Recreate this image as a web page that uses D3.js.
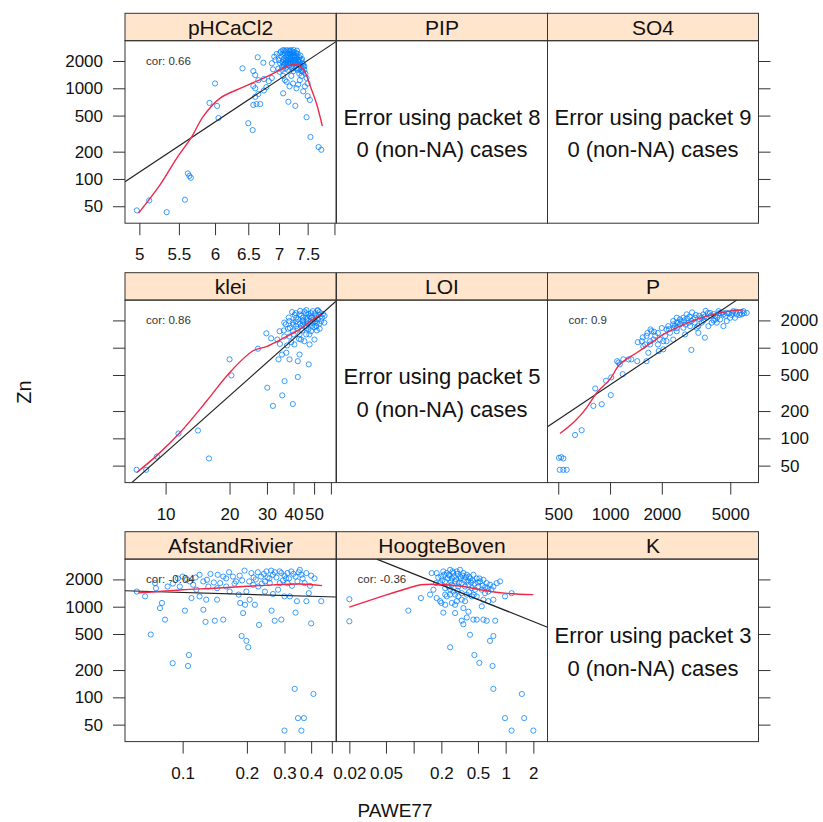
<!DOCTYPE html>
<html>
<head>
<meta charset="utf-8">
<script src="https://cdn.jsdelivr.net/npm/d3@7"></script>
<style>
  body { margin: 0; background: #fff; }
  text { font-family: "Liberation Sans", Arial, Helvetica, sans-serif; }
</style>
</head>
<body>
<svg id="chart" width="823" height="822"></svg>
<script>
// ---------------- data ----------------
// Zn response (log scale) shared by every panel
const znTicks = [50, 100, 200, 500, 1000, 2000];
const znDomain = [32.5, 3350];

// pHCaCl2 vs Zn
const pHPoints = [
  [4.97,45],[5.12,58],[5.34,43],[5.58,59],[5.62,115],[5.64,108],[5.66,103],
  [5.92,690],[6.03,640],[6.0,1130],[6.05,470],
  [6.41,1660],[6.5,412],[6.57,346],[6.65,2200],[6.74,1918],
  [6.58,1550],[6.61,1400],[6.66,1230],[6.58,1060],[6.61,1000],[6.66,865],[6.61,805],[6.58,655],
  [6.63,670],[6.69,670],[6.75,945],[6.79,1030],[6.75,1265],[6.83,1200],[6.88,1300],[6.9,1620],
  [6.88,1890],[6.92,2230],[6.94,2050],[6.96,2390],
  [7.01,2430],[7.04,2230],[7.07,2640],[7.07,2050],[7.1,2430],[7.1,1890],[7.13,2230],[7.13,2640],
  [7.15,2050],[7.16,2430],[7.18,2230],[7.18,1890],[7.2,2640],[7.21,2050],[7.22,2430],[7.24,2230],
  [7.24,1890],[7.26,2500],[7.27,2050],[7.28,2300],[7.3,2150],[7.3,1890],[7.32,2400],[7.33,1980],
  [7.35,2200],[7.36,1800],[7.38,2050],[7.4,1890],[7.42,1730],[7.02,1890],[7.05,1730],[7.08,1800],
  [7.11,1650],[7.14,1730],[7.17,1800],[7.2,1730],[7.23,1650],[7.26,1730],[7.29,1650],[7.32,1600],
  [7.35,1650],[7.38,1560],[7.44,1600],[7.46,1450],[7.0,2050],[6.99,1650],[7.19,2550],[7.25,2650],
  [7.12,1950],[7.28,1950],
  [7.03,2550],[7.06,2400],[7.09,2150],[7.11,2550],[7.14,2350],[7.16,2150],[7.19,2400],[7.21,2250],
  [7.23,2550],[7.26,2300],[7.29,2450],[7.31,2250],[7.34,2050],[7.37,2300],[7.4,2100],[7.06,1950],
  [7.09,1850],[7.12,2050],[7.15,1900],[7.18,2000],[7.21,1900],[7.24,2000],[7.27,1900],[7.3,1800],
  [7.33,1850],[7.36,1950],[7.39,1700],[7.42,1850],[7.44,1750],[7.15,1600],[7.25,1550],[7.35,1450],
  [7.05,1600],[7.4,1550],[7.27,2200],[7.2,2150],[7.17,2600],[7.31,2600],[7.09,2600],[7.13,1850],
  [7.01,1520],[7.07,1370],[7.1,1230],[7.13,1180],[7.21,1370],[7.24,1130],[7.3,1000],[7.36,1230],
  [7.39,1370],[7.42,1520],[7.48,1300],[7.5,1130],[7.42,925],[7.5,820],[7.54,743],[7.07,880],
  [7.16,710],[7.28,640],[7.48,480],[7.55,290],[7.7,225],[7.75,210],[7.18,1050],[7.33,1100],[7.45,1050]
];
const pHSmooth = [
  [4.99,42],[5.255,86],[5.47,169],[5.67,290],[5.83,488],[6.07,775],[6.42,1030],[6.79,1340],
  [7.07,1660],[7.21,1810],[7.33,1810],[7.45,1520],[7.54,1085],[7.66,685],[7.77,382]
];
const pHFit = [[4.83,93],[8.03,3270]];
const pHTicks = [5, 5.5, 6, 6.5, 7, 7.5, 8];
const pHTickLabels = ["5", "5.5", "6", "6.5", "7", "7.5", ""];

// klei vs Zn
const kleiPoints = [
  [7.3,45],[8.1,45],[9.1,63],[11.5,113],[14.2,122],[16,60],[20,743],[20.4,495],[27.2,975],
  [29.8,1440],[30.1,362],[32,228],[35.4,298],[36.3,428],[39.7,239],[41.9,475],[47.2,655],[41.9,710],
  [34,743],[35.3,840],[37,880],[38.3,743],[40.4,1085],[37.3,1060],[42.7,840],[43.4,1230],[47.6,1085],
  [45.9,1400],[33.6,1230],[36.2,1330],[31.4,1270],[34.4,1520],[36.8,1810],[39.4,2470],[42.7,2330],
  [45.9,2400],[49.3,2530],[53.1,2470],[54,1970],[51.2,1730],[48.4,1520],[50.2,1230],[44.3,1810],
  [46.8,1970],[41.2,1730],[39.7,1520],[38.3,1970],[41.2,2140],[44.3,2140],[47.6,2230],[51.2,2230],
  [52.1,2050],[38.3,1330],[42.7,1400],[45,1180],[53.1,1620],[55.8,1890],[36.2,1890],[42,1620],
  [49.3,1890],[45.9,1730],[39.7,1890],[43.4,1730],[48.4,2400],[50.2,1680],[37.7,1620],
  [40.5,2300],[43,2550],[46,2050],[50,2050],[52,2600],[47,1600],[44,2000],[49,2150],[41,1950],
  [55,2350],[46.5,1850],[51.5,1900],[38,2150],
  [41,2400],[43.5,2250],[45,2500],[47,2350],[48.5,2150],[50.5,2400],[52.5,2300],[54.5,2150],
  [42,2050],[44.5,1950],[46.5,2150],[48,1850],[50.5,1950],[53,1850],[40,1800],[43,1850],[46,1650],
  [49,1750],[51.5,1550],[38.5,1650],[44,1550],[47.5,1400],[40,1400],[42.5,1250],[36,1550],[39,1150],
  [34.5,1100],[56,2250],[52,2550],[46,2600]
];
const kleiSmooth = [
  [7.31,42],[9.08,64.5],[11.7,116],[15.6,258],[20,530],[25.8,925],[29.8,1030],[36.2,1290],
  [42.7,1590],[49.3,2050],[54,2370]
];
const kleiFit = [[6.93,32.5],[63.4,3260]];
const kleiTicks = [10, 20, 30, 40, 50, 60];
const kleiTickLabels = ["10", "20", "30", "40", "50", ""];

// P vs Zn
const pPoints = [
  [505,61],[520,62],[535,60],[510,45],[535,45],[560,45],
  [626,109],[684,123],[800,228],[895,238],[820,355],[948,432],[1010,300],[1016,470],
  [1100,710],[1120,685],[1140,655],[1195,743],[1280,743],[1185,510],[1330,743],[1440,710],
  [1630,710],[1670,880],[1560,1040],[1600,1085],[1710,1180],[1740,1520],[1830,1350],[1900,1085],
  [1920,920],[2040,1180],[2090,1350],[2130,1590],[2180,1730],[2330,1970],[2440,2140],[2380,1730],
  [2970,945],[3560,1290],
  [2230,1460],[2330,1810],[2440,1890],[2550,2050],[2670,2140],[2790,2330],[2860,1890],[2970,1970],
  [3120,2140],[3260,1730],[3330,2050],[3490,2330],[3650,2140],[3810,2420],[3900,1890],[4080,2230],
  [4270,2530],[4360,2050],[4560,2330],[4770,2420],[4990,2140],[5200,2530],[5450,2330],[5700,2420],
  [5960,2530],[6230,2420],[2670,1660],[2440,1520],[2920,1730],[3190,1660],[2130,1180],[2040,960],
  [1950,1230],[1790,1230],[1710,1085],[1530,1180],[1630,1350],[1720,1590],[2550,1810],[3410,1890],
  [3730,1730],[4170,1890],[4560,1730],[4770,1970],[5320,2140],[5830,2330],[2330,1230],[2730,1400],
  [3260,1460],[3000,2450],[4000,2000],[4400,2400],[5100,2300],[3600,2550],
  [2200,1600],[2350,1650],[2500,1900],[2600,1950],[2700,2000],[2800,2100],[2900,2200],[3050,2050],
  [3150,2300],[3300,2250],[3400,2150],[3550,2200],[3700,2400],[3850,2250],[4000,2350],[4200,2150],
  [4300,2400],[4500,2450],[4700,2250],[4900,2400],[5150,2450],[5400,2500],[5650,2300],[6000,2400],
  [2450,1650],[2750,1800],[3100,1900],[3500,2000],[4100,2050],[1900,1450],[2000,1650],[1800,1500],
  [1650,1450],[1550,1300],[1450,1150]
];
const pSmooth = [
  [512,113],[626,155],[732,218],[837,318],[1000,450],[1140,655],[1430,880],[1790,1180],
  [2040,1400],[2550,1730],[3190,2050],[3990,2330],[4990,2530],[5960,2620]
];
const pFit = [[433,134],[5450,3350]];
const pTicks = [500, 1000, 2000, 5000];
const pTickLabels = ["500", "1000", "2000", "5000"];

// AfstandRivier vs Zn
const afstandPoints = [
  [0.061,1470],[0.0667,1300],[0.0709,493],[0.0743,1820],[0.0783,965],[0.08,1100],[0.0827,720],
  [0.0898,238],[0.085,1670],[0.1025,905],[0.106,222],[0.107,293],[0.112,1745],[0.116,1540],
  [0.11,1245],[0.12,1300],[0.125,925],[0.128,680],[0.129,1195],[0.12,2250],[0.13,1980],[0.1415,700],
  [0.145,1195],[0.15,1820],[0.155,720],[0.146,2250],[0.16,2050],[0.166,1470],[0.172,2150],
  [0.178,1900],[0.186,1100],[0.189,475],[0.192,850],[0.199,420],[0.203,357],[0.196,1050],
  [0.206,1195],[0.21,2350],[0.218,1050],[0.228,630],[0.226,1670],[0.233,2150],[0.243,1900],
  [0.247,2450],[0.261,905],[0.265,2250],[0.27,700],[0.28,1540],[0.29,720],[0.29,2350],[0.3,43],
  [0.3,1300],[0.305,2050],[0.318,1300],[0.323,2450],[0.335,124],[0.338,860],[0.343,1150],
  [0.347,59],[0.354,2550],[0.36,43],[0.37,59],[0.38,1150],[0.39,1410],[0.4,655],[0.41,109],
  [0.415,2050],[0.446,1150],[0.285,1820],[0.256,1820],[0.214,1745],[0.199,1470],[0.16,1670],
  [0.132,1670],[0.1,2150],[0.108,1900],[0.097,1670],[0.145,1600],[0.183,1360],[0.243,1470],
  [0.265,1380],[0.31,1820],[0.338,2150],[0.373,1820],[0.36,2250],[0.27,2400],[0.22,2000],
  [0.25,2100],[0.31,2350],[0.19,1950],
  [0.105,2000],[0.115,2100],[0.125,1900],[0.135,2300],[0.14,1850],[0.155,2150],[0.165,2400],
  [0.175,1800],[0.185,2200],[0.195,2500],[0.205,1900],[0.215,2100],[0.225,2400],[0.235,1800],
  [0.24,2300],[0.255,2050],[0.26,2500],[0.275,2100],[0.285,2450],[0.295,1950],[0.3,2200],
  [0.315,2050],[0.325,1700],[0.33,2300],[0.345,1900],[0.35,2400],[0.365,2050],[0.38,2350],
  [0.395,1700],[0.4,2200],[0.09,1800],[0.095,2050],[0.075,1600]
];
const afstandSmooth = [
  [0.062,1420],[0.08,1480],[0.1,1540],[0.14,1600],[0.2,1680],[0.265,1740],[0.354,1780],[0.45,1710]
];
const afstandFit = [[0.0537,1500],[0.523,1280]];
const afstandTicks = [0.1, 0.2, 0.3, 0.4, 0.5];
const afstandTickLabels = ["0.1", "0.2", "0.3", "0.4", ""];

// HoogteBoven vs Zn
const hoogtePoints = [
  [0.02,1210],[0.02,690],[0.0875,905],[0.12,1245],[0.151,1360],[0.157,2350],[0.164,1540],
  [0.175,1820],[0.178,1245],[0.194,1150],[0.2,1100],[0.21,860],[0.22,1600],[0.229,1300],
  [0.24,2250],[0.249,357],[0.26,2050],[0.27,1470],[0.282,850],[0.282,1050],[0.294,1150],
  [0.306,1300],[0.319,2150],[0.333,700],[0.347,640],[0.362,1150],[0.378,760],[0.394,880],
  [0.41,490],[0.428,1300],[0.446,720],[0.457,293],[0.485,720],[0.518,240],[0.55,1010],[0.573,720],
  [0.622,700],[0.647,1150],[0.676,420],[0.72,222],[0.735,475],[0.735,1195],[0.735,124],[0.77,700],
  [0.8,1820],[0.869,1900],[0.984,1300],[0.984,59],[1.16,43],[1.16,1410],[1.5,109],[1.59,59],[2.0,43],
  [0.178,2350],[0.2,2150],[0.21,2450],[0.229,2350],[0.249,2550],[0.27,2350],[0.294,2450],
  [0.319,2550],[0.347,2350],[0.378,2250],[0.41,2050],[0.446,2250],[0.485,2050],[0.527,1900],
  [0.573,1980],[0.622,1820],[0.676,1745],[0.735,1670],[0.194,1820],[0.22,1900],[0.24,1670],
  [0.26,1745],[0.282,1900],[0.306,1670],[0.333,1820],[0.362,1670],[0.394,1745],[0.428,1600],
  [0.465,1540],[0.505,1670],[0.55,1540],[0.597,1410],[0.647,1470],[0.22,1360],[0.249,1360],
  [0.282,1360],[0.333,1410],[0.378,1360],[0.485,1300],[0.573,1195],[0.333,1195],[0.26,1100],
  [0.347,965],[0.22,1050],
  [0.185,2100],[0.205,1950],[0.215,2250],[0.235,2050],[0.245,2200],[0.255,1900],[0.265,2450],
  [0.275,2150],[0.29,2000],[0.3,2300],[0.31,1850],[0.325,2050],[0.34,2200],[0.355,1950],
  [0.37,2100],[0.385,1900],[0.4,2150],[0.42,1850],[0.44,1950],[0.46,1800],[0.5,1850],[0.52,2050],
  [0.56,1700],[0.6,1650],[0.64,1600],[0.7,1550],[0.25,1550],[0.3,1500],[0.4,1450],[0.45,1350]
];
const hoogteSmooth = [
  [0.02,990],[0.045,1300],[0.09,1620],[0.12,1745],[0.2,1760],[0.35,1670],[0.53,1540],[0.98,1410],[2.0,1360]
];
const hoogteFit = [[0.0397,3350],[2.85,594]];
const hoogteTicks = [0.02, 0.05, 0.1, 0.2, 0.5, 1, 2];
const hoogteTickLabels = ["0.02", "0.05", "", "0.2", "0.5", "1", "2"];

// panel layout, top row first (lattice draws packets from the bottom row up)
const panels = [
  { name: "pHCaCl2", row: 0, col: 0, points: pHPoints, smooth: pHSmooth, fit: pHFit, cor: "0.66",
    xDomain: [4.83, 8.03], ticks: pHTicks, tickLabels: pHTickLabels },
  { name: "PIP", row: 0, col: 1, packet: 8 },
  { name: "SO4", row: 0, col: 2, packet: 9 },
  { name: "klei", row: 1, col: 0, points: kleiPoints, smooth: kleiSmooth, fit: kleiFit, cor: "0.86",
    xDomain: [6.44, 63.4], ticks: kleiTicks, tickLabels: kleiTickLabels },
  { name: "LOI", row: 1, col: 1, packet: 5 },
  { name: "P", row: 1, col: 2, points: pPoints, smooth: pSmooth, fit: pFit, cor: "0.9",
    xDomain: [433, 7295], ticks: pTicks, tickLabels: pTickLabels },
  { name: "AfstandRivier", row: 2, col: 0, points: afstandPoints, smooth: afstandSmooth, fit: afstandFit, cor: "-0.04",
    xDomain: [0.0537, 0.523], ticks: afstandTicks, tickLabels: afstandTickLabels },
  { name: "HoogteBoven", row: 2, col: 1, points: hoogtePoints, smooth: hoogteSmooth, fit: hoogteFit, cor: "-0.36",
    xDomain: [0.0145, 2.85], ticks: hoogteTicks, tickLabels: hoogteTickLabels },
  { name: "K", row: 2, col: 2, packet: 3 }
];

// ---------------- drawing ----------------
const svg = d3.select("#chart");
const colLeft = [125, 336.5, 547.5];
const colW = 211;
const stripTop = [13.3, 272.7, 531.7];
const stripH = 27.4;
const panelH = 182.5;
const axisCol = "#333";
const pointCol = "#0080ff";
const smoothCol = "#f0284a";
const fontStack = '"Liberation Sans", Arial, sans-serif';

const y0 = d3.scaleLog().domain(znDomain).range([panelH, 0]);

function styleAxis(a) {
  a.select(".domain").remove();
  a.selectAll("line").attr("stroke", axisCol);
  a.selectAll("text").attr("font-size", 17).attr("fill", "#111").attr("font-family", fontStack);
}

panels.forEach((p, i) => {
  const left = colLeft[p.col];
  const sTop = stripTop[p.row];
  const top = sTop + stripH;

  // strip
  const strip = svg.append("g").attr("transform", `translate(${left},${sTop})`);
  strip.append("rect").attr("width", colW).attr("height", stripH)
    .attr("fill", "#ffe5cc").attr("stroke", axisCol).attr("stroke-width", 1);
  strip.append("text").attr("x", colW / 2).attr("y", stripH / 2).attr("dy", "0.36em")
    .attr("text-anchor", "middle").attr("font-size", 21).attr("fill", "#111").text(p.name);

  const g = svg.append("g").attr("transform", `translate(${left},${top})`);
  const clipId = "clip" + i;
  g.append("clipPath").attr("id", clipId).append("rect").attr("width", colW).attr("height", panelH);

  if (p.points) {
    const x = d3.scaleLog().domain(p.xDomain).range([0, colW]);
    const body = g.append("g").attr("clip-path", `url(#${clipId})`);

    body.selectAll("circle").data(p.points).join("circle")
      .attr("cx", d => x(d[0])).attr("cy", d => y0(d[1])).attr("r", 2.6)
      .attr("fill", "none").attr("stroke", pointCol).attr("stroke-width", 0.9).attr("opacity", 0.85);

    const fitLine = d3.line().x(d => x(d[0])).y(d => y0(d[1]));
    const smoothLine = d3.line().x(d => x(d[0])).y(d => y0(d[1])).curve(d3.curveCatmullRom.alpha(0.5));
    body.append("path").datum(p.fit).attr("d", fitLine)
      .attr("fill", "none").attr("stroke", "#222").attr("stroke-width", 1.2);
    body.append("path").datum(p.smooth).attr("d", smoothLine)
      .attr("fill", "none").attr("stroke", smoothCol).attr("stroke-width", 1.4);

    g.append("text").attr("x", colW * 0.1).attr("y", panelH * 0.11).attr("dy", "0.35em")
      .attr("font-size", 11.5).attr("fill", "#333").text("cor: " + p.cor);

    // x axis beneath the panel
    const xa = g.append("g").attr("transform", `translate(0,${panelH})`)
      .call(d3.axisBottom(x).tickValues(p.ticks).tickFormat((d, k) => p.tickLabels[k])
        .tickSize(12).tickPadding(13));
    styleAxis(xa);
  } else {
    g.append("text").attr("x", colW / 2).attr("y", 84).attr("text-anchor", "middle")
      .attr("font-size", 22).attr("fill", "#111").text("Error using packet " + p.packet);
    g.append("text").attr("x", colW / 2).attr("y", 116.5).attr("text-anchor", "middle")
      .attr("font-size", 22).attr("fill", "#111").text("0 (non-NA) cases");
  }

  g.append("rect").attr("width", colW).attr("height", panelH)
    .attr("fill", "none").attr("stroke", axisCol).attr("stroke-width", 1);

  // y axes on the outer columns; labels alternate left / right by row
  const labelsLeft = p.row !== 1;
  if (p.col === 0) {
    const ya = g.append("g").call(d3.axisLeft(y0).tickValues(znTicks)
      .tickFormat(labelsLeft ? d3.format("d") : () => "").tickSize(12).tickPadding(10));
    styleAxis(ya);
  }
  if (p.col === 2) {
    const ya = g.append("g").attr("transform", `translate(${colW},0)`)
      .call(d3.axisRight(y0).tickValues(znTicks)
        .tickFormat(labelsLeft ? () => "" : d3.format("d")).tickSize(12).tickPadding(10));
    styleAxis(ya);
  }
});

// axis titles
svg.append("text").attr("x", 395).attr("y", 817).attr("text-anchor", "middle")
  .attr("font-size", 19).attr("fill", "#111").text("PAWE77");
svg.append("text").attr("transform", "translate(31,392) rotate(-90)").attr("text-anchor", "middle")
  .attr("font-size", 20).attr("fill", "#111").text("Zn");
</script>
</body>
</html>
